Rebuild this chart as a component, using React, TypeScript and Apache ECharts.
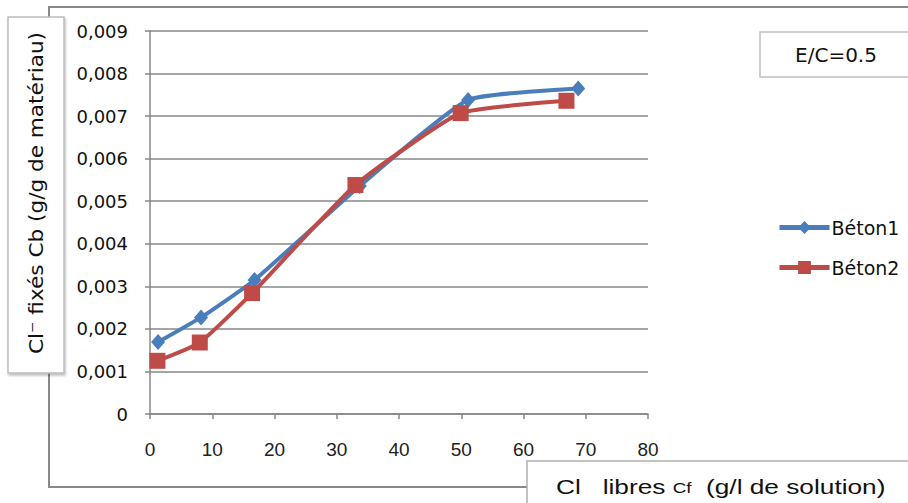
import React, { useEffect, useRef } from "react";
import * as echarts from "echarts";

const beton1X = [1.3, 8.2, 16.8, 33.7, 51.1, 68.8];
const beton1Y = [0.00169, 0.00227, 0.00315, 0.00536, 0.00738, 0.00765];
const beton2X = [1.2, 8.0, 16.4, 33.0, 49.9, 66.9];
const beton2Y = [0.00125, 0.00168, 0.00284, 0.00538, 0.00707, 0.00736];
const seriesNames = ["Béton1", "Béton2"];
const yTitle = "Cl⁻ fixés Cb (g/g de matériau)";
const boxLabel = "E/C=0.5";

export default function App() {
  const ref = useRef<HTMLDivElement>(null);
  useEffect(() => {
    if (!ref.current) return;
    const chart = echarts.init(ref.current, null, { renderer: "svg" });
    const gray = "#878787";
    chart.setOption({
      animation: false,
      backgroundColor: "#ffffff",
      grid: { left: 150, right: 260, top: 31, bottom: 89, containLabel: false },
      xAxis: {
        type: "value",
        min: 0,
        max: 80,
        interval: 10,
        axisLine: { show: true, lineStyle: { color: gray, width: 1.5 } },
        axisTick: { show: true, length: 5, lineStyle: { color: gray, width: 1.5 } },
        splitLine: { show: false },
        axisLabel: { margin: 26, color: "#222", fontFamily: "Liberation Sans", fontSize: 19 },
      },
      yAxis: {
        type: "value",
        min: 0,
        max: 0.009,
        interval: 0.001,
        axisLine: { show: true, lineStyle: { color: gray, width: 1.5 } },
        axisTick: { show: true, inside: false, length: 5, lineStyle: { color: gray, width: 1.5 } },
        splitLine: { show: true, lineStyle: { color: gray, width: 1.5 } },
        axisLabel: {
          margin: 22,
          color: "#111",
          fontFamily: "DejaVu Sans",
          fontSize: 18,
          formatter: (v: number) => (v === 0 ? "0" : v.toFixed(3).replace(".", ",")),
        },
      },
      legend: {
        orient: "vertical",
        left: 772,
        top: 213,
        itemWidth: 50,
        itemHeight: 16,
        itemGap: 21,
        lineStyle: { width: 5 },
        textStyle: { fontFamily: "DejaVu Sans", fontSize: 19, color: "#111", padding: [0, 0, 0, -3] },
        data: seriesNames,
      },
      series: [
        {
          name: seriesNames[0],
          type: "line",
          smooth: 0.15,
          data: beton1X.map((x, i) => [x, beton1Y[i]]),
          symbol: "diamond",
          symbolSize: [14, 16],
          lineStyle: { color: "#4a7ebb", width: 4 },
          itemStyle: { color: "#4a7ebb" },
        },
        {
          name: seriesNames[1],
          type: "line",
          smooth: 0.15,
          data: beton2X.map((x, i) => [x, beton2Y[i]]),
          symbol: "rect",
          symbolSize: 16,
          lineStyle: { color: "#be4b48", width: 4 },
          itemStyle: { color: "#be4b48" },
        },
      ],
      graphic: [
        {
          type: "polyline",
          shape: { points: [[527, 487], [49, 487], [49, 7], [910, 7]] },
          style: { stroke: "#888", lineWidth: 2, fill: "none" },
          z: 1,
        },
        {
          type: "rect",
          shape: { x: 8, y: 17, width: 56, height: 356 },
          style: { fill: "#fff", stroke: "#bdbdbd", lineWidth: 1.5, shadowColor: "rgba(0,0,0,0.25)", shadowOffsetY: 2, shadowOffsetX: 1, shadowBlur: 2 },
          z: 10,
        },
        {
          type: "text",
          x: 36,
          y: 193,
          rotation: Math.PI / 2,
          scaleX: 1.08,
          style: {
            text: yTitle,
            fontFamily: "DejaVu Sans",
            fontSize: 20,
            fill: "#111",
            align: "center",
            verticalAlign: "middle",
          },
          z: 11,
        },
        {
          type: "rect",
          shape: { x: 760, y: 32, width: 160, height: 45 },
          style: { fill: "#fff", stroke: "#c0c0c0", lineWidth: 1.5 },
          z: 10,
        },
        {
          type: "text",
          x: 836,
          y: 55,
          style: {
            text: boxLabel,
            fontFamily: "DejaVu Sans",
            fontSize: 20,
            fill: "#111",
            align: "center",
            verticalAlign: "middle",
          },
          z: 11,
        },
        {
          type: "rect",
          shape: { x: 527, y: 461, width: 400, height: 60 },
          style: { fill: "#fff", stroke: "#b0b0b0", lineWidth: 1.5 },
          z: 10,
        },
        {
          type: "text",
          x: 556,
          y: 486,
          scaleX: 1.25,
          style: {
            text: "{a|Cl   libres }{b|Cf}{a|  (g/l de solution)}",
            rich: {
              a: { fontFamily: "Liberation Sans", fontSize: 21, fill: "#111" },
              b: { fontFamily: "Liberation Sans", fontSize: 15, fill: "#111", padding: [5, 0, 0, 0] },
            },
            align: "left",
            verticalAlign: "middle",
          },
          z: 11,
        },
      ],
    });
    return () => chart.dispose();
  }, []);
  return (
    <div
      ref={ref}
      style={{ position: "fixed", left: 0, top: 0, width: 908, height: 503 }}
    />
  );
}
